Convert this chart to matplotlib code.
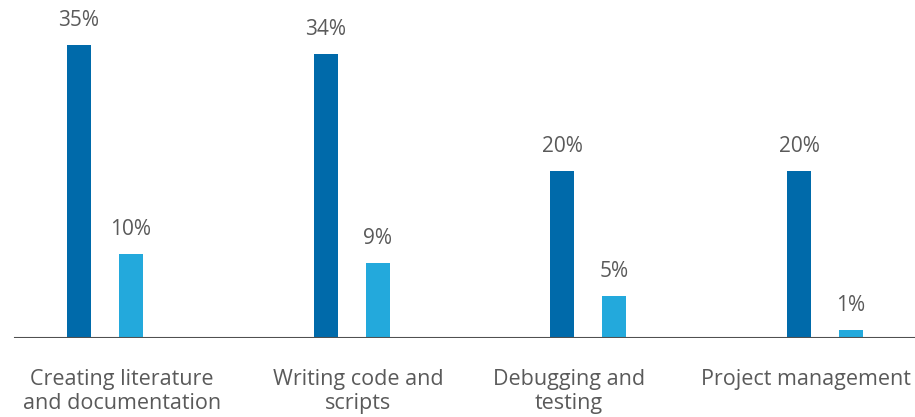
import matplotlib
matplotlib.use("Agg")
import matplotlib.pyplot as plt
import numpy as np

# data
categories = ["Creating literature\nand documentation", "Writing code and\nscripts",
              "Debugging and\ntesting", "Project management"]
series_a = [35, 34, 20, 20]
series_b = [10, 9, 5, 1]

# layout (pixel-like units along x)
group_x = np.array([105, 352, 588, 825])
label_x = [122, 358, 569, 806]
bar_w = 24
gap = 26

dark = "#006aaa"
light = "#23a9dc"
text_col = "#5a5a5a"

plt.rcParams["font.family"] = ["Open Sans", "DejaVu Sans"]

fig = plt.figure(figsize=(9.15, 4.17), dpi=100)
ax = fig.add_axes([0, 79 / 417, 1, 338 / 417])
ax.set_xlim(0, 915)
ax.set_ylim(0, 40.4)

bars_a = ax.bar(group_x - gap, series_a, width=bar_w, color=dark)
bars_b = ax.bar(group_x + gap, series_b, width=bar_w, color=light)

for bars, vals in [(bars_a, series_a), (bars_b, series_b)]:
    for b, v in zip(bars, vals):
        ax.annotate(f"{v}%", (b.get_x() + b.get_width() / 2, v),
                    xytext=(0, 10), textcoords="offset points",
                    ha="center", va="bottom", fontsize=15, color=text_col)

ax.axhline(0, xmin=15 / 915, xmax=1, color="#505050", lw=1.5)

ax.set_xticks(label_x)
ax.set_xticklabels(categories, fontsize=15.5, color=text_col, linespacing=1.2)
ax.tick_params(axis="x", length=0, pad=22)
ax.set_yticks([])
for s in ax.spines.values():
    s.set_visible(False)

fig.savefig("out.png", dpi=100)
